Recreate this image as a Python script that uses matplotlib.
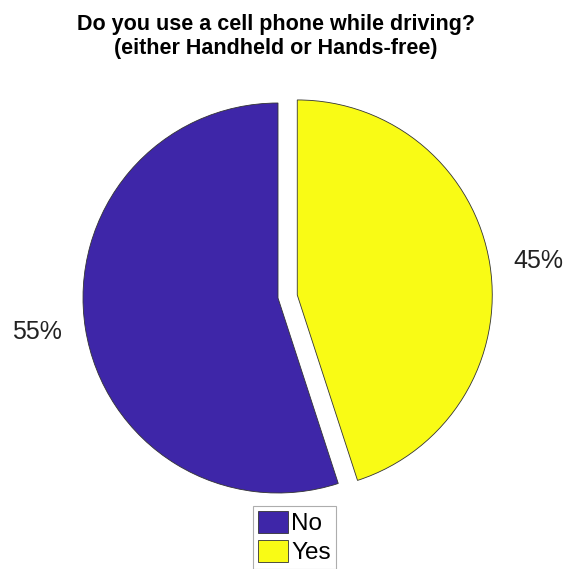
import matplotlib
matplotlib.use("Agg")
import matplotlib.pyplot as plt

# survey answers, percent of respondents
answers = ['No', 'Yes']
shares = [55, 45]
colors = ['#3e26a8', '#f9fb15']

plt.rcParams['font.family'] = ['Liberation Sans', 'DejaVu Sans']

fig = plt.figure(figsize=(5.66, 5.69), dpi=100)
ax = fig.add_axes([0, 0, 1, 1])

# pie is laid out in pixel-like units so the offset of the Yes slice
# can be given as a share of the radius
cx, cy, r = 278, 271, 195
wedges, texts = ax.pie(
    shares,
    labels=[f'{v}%' for v in shares],
    colors=colors,
    explode=[0, 0.1 * r],
    startangle=90,
    counterclock=True,
    center=(cx, cy),
    radius=r,
    labeldistance=1.12,
    wedgeprops=dict(edgecolor='#333333', linewidth=0.6),
    textprops=dict(fontsize=18, color='#222222'),
    frame=True,
)
# alignment by side of the pie centre, not of the origin
for t in texts:
    t.set_ha('left' if t.get_position()[0] > cx else 'right')

ax.set_xlim(0, 566)
ax.set_ylim(0, 569)
ax.set_aspect('equal')
ax.axis('off')

fig.text(0.487, 0.975, 'Do you use a cell phone while driving?\n(either Handheld or Hands-free)',
         ha='center', va='top', fontsize=15.5, fontweight='bold', linespacing=1.2)

leg = ax.legend(wedges, answers, loc='lower left', bbox_to_anchor=(253 / 566, 0.0),
                bbox_transform=fig.transFigure, fontsize=17.5, fancybox=False,
                handlelength=1.25, handleheight=1.0, handletextpad=0.12,
                borderpad=0.2, labelspacing=0.2, borderaxespad=0)
leg.get_frame().set_edgecolor('#999999')
leg.get_frame().set_linewidth(0.8)

fig.savefig('out.png', dpi=100)
